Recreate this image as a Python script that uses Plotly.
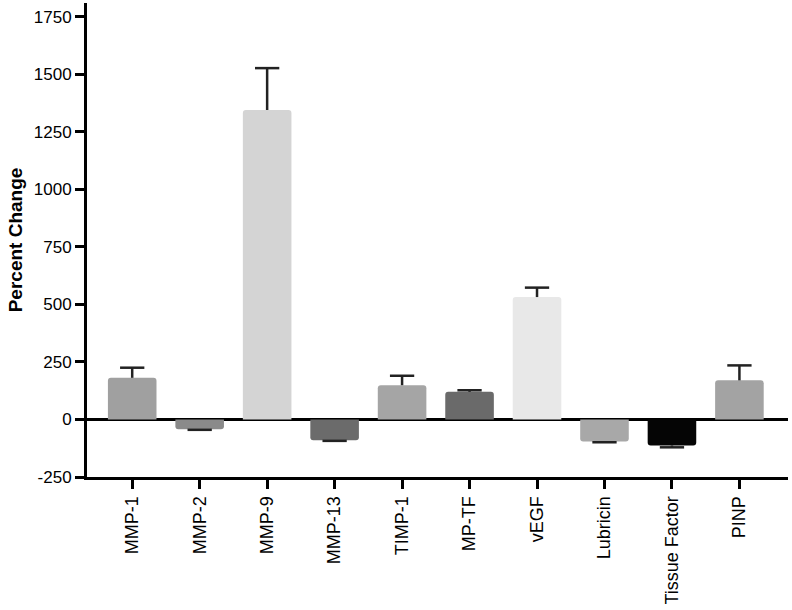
import plotly.graph_objects as go

# data
categories = ["MMP-1", "MMP-2", "MMP-9", "MMP-13", "TIMP-1",
              "MP-TF", "vEGF", "Lubricin", "Tissue Factor", "PINP"]
pct_change = [181, -42, 1345, -90, 149, 120, 532, -96, -113, 170]
sem = [44, 3, 182, 3, 41, 7, 41, 3, 8, 65]
bar_colors = ["#a0a0a0", "#8a8a8a", "#d4d4d4", "#6b6b6b", "#a5a5a5",
              "#6a6a6a", "#e8e8e8", "#a8a8a8", "#050505", "#a3a3a3"]
y_ticks = [-250, 0, 250, 500, 750, 1000, 1250, 1500, 1750]

xs = list(range(len(categories)))

# one-sided error bars (Prism style): stem away from zero + a single cap
cap = 0.18
ex, ey = [], []
for i, v, e in zip(xs, pct_change, sem):
    tip = v + e if v >= 0 else v - e
    ex += [i, i, None, i - cap, i + cap, None]
    ey += [v, tip, None, tip, tip, None]

fig = go.Figure()
fig.add_trace(go.Bar(
    x=xs, y=pct_change, width=0.72,
    marker=dict(color=bar_colors, line=dict(width=0), cornerradius=3),
))
fig.add_trace(go.Scatter(
    x=ex, y=ey, mode="lines", hoverinfo="skip",
    line=dict(color="#222222", width=2.5),
))

fig.update_layout(
    width=792, height=610,
    margin=dict(l=87, r=4, t=3, b=133),
    paper_bgcolor="white", plot_bgcolor="white",
    font=dict(family="Liberation Sans, Arial, sans-serif", color="black"),
    showlegend=False,
)

fig.update_xaxes(
    range=[-0.67, 9.72],
    tickvals=xs, ticktext=categories,
    tickangle=-90, tickfont=dict(size=18),
    showgrid=False, zeroline=False,
    showline=True, linecolor="black", linewidth=3,
    ticks="outside", ticklen=9, tickwidth=3, tickcolor="black",
)

fig.update_yaxes(
    range=[-250, 1810],
    tickvals=y_ticks, ticktext=[str(t) for t in y_ticks],
    tickfont=dict(size=17),
    showgrid=False,
    zeroline=True, zerolinecolor="black", zerolinewidth=3,
    showline=True, linecolor="black", linewidth=3,
    ticks="outside", ticklen=9, tickwidth=3, tickcolor="black",
    title=dict(text="<b>Percent Change</b>", font=dict(size=19), standoff=7),
)

# drop the default page margin so the chart sits at the window's top-left
fig.write_html("out.html", config={"displayModeBar": False},
               post_script="document.body.style.margin='0';")
